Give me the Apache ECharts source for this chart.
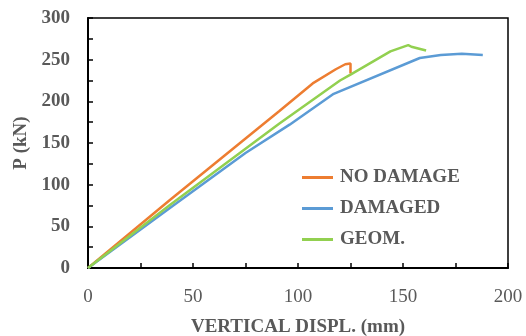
<!DOCTYPE html>
<html><head><meta charset="utf-8">
<script src="https://cdn.jsdelivr.net/npm/echarts@6/dist/echarts.min.js"></script>
<style>html,body{margin:0;padding:0;background:#fff}#c{width:526px;height:336px}</style>
</head><body><div id="c"></div>
<script>
const seriesNames = ['NO DAMAGE', 'DAMAGED', 'GEOM.'];
const noDamage = [[0,0],[39,81.5],[91,188],[107,221.5],[118,238.5],[122.5,244.5],[125,245.5],[125,233.5]];
const damaged = [[0,0],[39,72],[75,138],[96,172],[117,209],[158,252],[168,255.5],[178,257],[188,255.5]];
const geom = [[0,0],[39,75.5],[91,173],[120,225],[125,232],[144,260],[152.5,267.5],[154,265.5],[161,261]];
const xTicks = [0,50,100,150,200];
const yTicks = [0,50,100,150,200,250,300];
const colors = ['#ED7D31','#5B9BD5','#92D050'];

const font = 'Liberation Serif';
const chart = echarts.init(document.getElementById('c'));
const mk = (name, data, color) => ({
  name, type: 'line', data, showSymbol: false, symbol: 'none', smooth: false,
  lineStyle: { color, width: 2.5 }, itemStyle: { color }, z: 3
});
chart.setOption({
  animation: false,
  grid: { left: 88, right: 18, top: 18, bottom: 68, containLabel: false, outerBoundsMode: 'none',
    show: true, borderColor: '#000', borderWidth: 1.5 },
  legend: {
    orient: 'vertical', left: 297, top: 163, itemGap: 12, itemGap: 12,
    icon: 'rect', itemWidth: 31, itemHeight: 3,
    textStyle: { fontFamily: font, fontWeight: 'bold', fontSize: 19, color: '#595959', padding: [0,0,0,2] },
    data: seriesNames
  },
  xAxis: {
    type: 'value', min: 0, max: 200, interval: 25,
    name: 'VERTICAL DISPL. (mm)', nameLocation: 'middle', nameGap: 50,
    nameTextStyle: { fontFamily: font, fontWeight: 'bold', fontSize: 19, color: '#595959' },
    axisLine: { show: true, lineStyle: { color: '#000', width: 2 } },
    axisTick: { show: true, inside: true, length: 5, lineStyle: { color: '#000', width: 1.5 } },
    axisLabel: { fontFamily: font, fontSize: 19, color: '#595959', margin: 20,
      formatter: v => xTicks.includes(v) ? String(v) : '' },
    splitLine: { show: false }
  },
  yAxis: {
    type: 'value', min: 0, max: 300, interval: 25,
    name: 'P (kN)', nameLocation: 'middle', nameGap: 57, nameRotate: 90,
    nameTextStyle: { fontFamily: font, fontWeight: 'bold', fontSize: 19, color: '#595959' },
    axisLine: { show: true, lineStyle: { color: '#000', width: 2 } },
    axisTick: { show: true, inside: true, length: 5, lineStyle: { color: '#000', width: 1.5 } },
    axisLabel: { fontFamily: font, fontWeight: 'bold', fontSize: 19, color: '#595959', margin: 18,
      formatter: v => yTicks.includes(v) ? String(v) : '' },
    splitLine: { show: false }
  },
  series: [mk(seriesNames[0], noDamage, colors[0]), mk(seriesNames[1], damaged, colors[1]), mk(seriesNames[2], geom, colors[2])]
});
</script></body></html>
